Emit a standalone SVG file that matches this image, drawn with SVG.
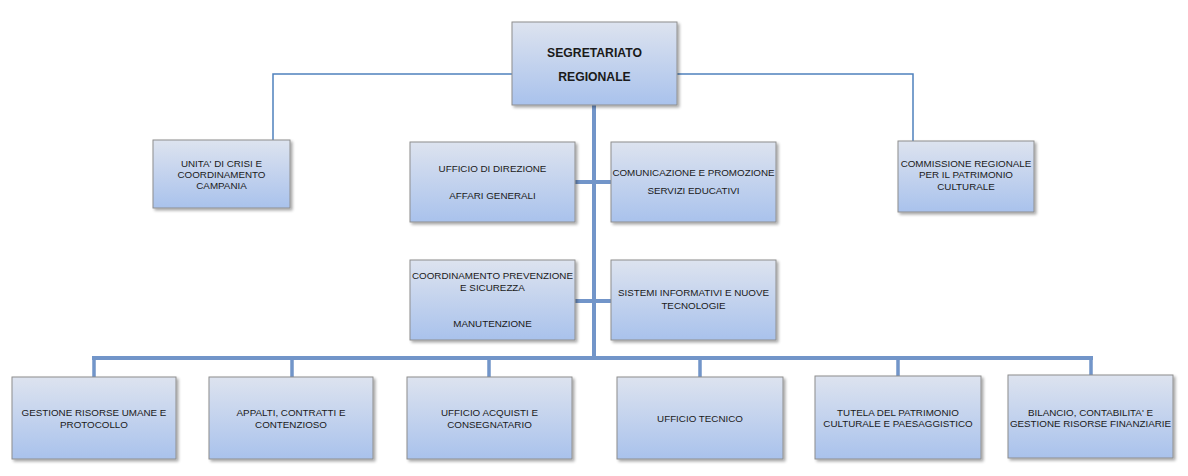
<svg xmlns="http://www.w3.org/2000/svg" width="1188" height="476" viewBox="0 0 1188 476">
<defs>
<linearGradient id="g" x1="0" y1="0" x2="0" y2="1">
<stop offset="0" stop-color="#dde3ef"/>
<stop offset="1" stop-color="#a9c2ec"/>
</linearGradient>
<filter id="sh" x="-10%" y="-10%" width="125%" height="130%">
<feGaussianBlur in="SourceAlpha" stdDeviation="1.5"/>
<feOffset dx="1.5" dy="2" result="b"/>
<feComponentTransfer><feFuncA type="linear" slope="0.35"/></feComponentTransfer>
<feMerge><feMergeNode/><feMergeNode in="SourceGraphic"/></feMerge>
</filter>
</defs>
<style>
.box{fill:url(#g);stroke:#8e8e8e;stroke-width:1;filter:url(#sh)}
.t{font-family:"Liberation Sans",Arial,sans-serif;font-size:9.8px;fill:#1a1a1a;text-anchor:middle}
.tb{font-family:"Liberation Sans",Arial,sans-serif;font-size:12.2px;font-weight:bold;fill:#1a1a1a;text-anchor:middle}
.thin{stroke:#4f81bd;stroke-width:1.5;fill:none}
.thick{stroke:#7295c9;stroke-width:4;fill:none}
.drop{stroke:#7295c9;stroke-width:3.5;fill:none}
</style>
<g id="connectors">
<path class="thin" d="M515 74 H273 V141"/>
<path class="thin" d="M674 74 H913 V142"/>
<path class="thick" d="M594 105 V359"/>
<path class="thick" d="M575 182 H611"/>
<path class="thick" d="M575 301 H611"/>
<path class="thick" d="M92 358 H1093"/>
<path class="drop" d="M94 358 V377 M292 358 V377 M489 358 V377 M700 358 V377 M898 358 V376 M1091 358 V375"/>
</g>
<g id="n-segretariato"><rect class="box" x="512" y="22" width="165" height="83"/>
<text class="tb" x="594.5" y="57">SEGRETARIATO</text><text class="tb" x="594.5" y="81">REGIONALE</text></g>
<g id="n-unita"><rect class="box" x="153" y="140" width="137" height="68"/>
<text class="t" x="221.5" y="167">UNITA' DI CRISI E</text><text class="t" x="221.5" y="178">COORDINAMENTO</text><text class="t" x="221.5" y="189">CAMPANIA</text></g>
<g id="n-commissione"><rect class="box" x="898" y="141" width="136" height="71"/>
<text class="t" x="966" y="167">COMMISSIONE REGIONALE</text><text class="t" x="966" y="178">PER IL PATRIMONIO</text><text class="t" x="966" y="190">CULTURALE</text></g>
<g id="n-direzione"><rect class="box" x="410" y="142" width="165" height="80"/>
<text class="t" x="492.5" y="172">UFFICIO DI DIREZIONE</text><text class="t" x="492.5" y="199">AFFARI GENERALI</text></g>
<g id="n-comunicazione"><rect class="box" x="611" y="142" width="165" height="80"/>
<text class="t" x="693.5" y="176">COMUNICAZIONE E PROMOZIONE</text><text class="t" x="693.5" y="194">SERVIZI EDUCATIVI</text></g>
<g id="n-prevenzione"><rect class="box" x="410" y="260" width="165" height="80"/>
<text class="t" x="492.5" y="279">COORDINAMENTO PREVENZIONE</text><text class="t" x="492.5" y="291">E SICUREZZA</text><text class="t" x="492.5" y="327">MANUTENZIONE</text></g>
<g id="n-sistemi"><rect class="box" x="611" y="260" width="165" height="80"/>
<text class="t" x="693.5" y="296">SISTEMI INFORMATIVI E NUOVE</text><text class="t" x="693.5" y="309">TECNOLOGIE</text></g>
<g id="n-risorse"><rect class="box" x="12" y="377" width="164" height="82"/>
<text class="t" x="94" y="416">GESTIONE RISORSE UMANE E</text><text class="t" x="94" y="428">PROTOCOLLO</text></g>
<g id="n-appalti"><rect class="box" x="209" y="377" width="164" height="82"/>
<text class="t" x="291" y="416">APPALTI, CONTRATTI E</text><text class="t" x="291" y="428">CONTENZIOSO</text></g>
<g id="n-acquisti"><rect class="box" x="407" y="377" width="165" height="82"/>
<text class="t" x="489.5" y="416">UFFICIO ACQUISTI E</text><text class="t" x="489.5" y="428">CONSEGNATARIO</text></g>
<g id="n-tecnico"><rect class="box" x="617" y="377" width="166" height="82"/>
<text class="t" x="700" y="422">UFFICIO TECNICO</text></g>
<g id="n-tutela"><rect class="box" x="815" y="376" width="166" height="83"/>
<text class="t" x="898" y="416">TUTELA DEL PATRIMONIO</text><text class="t" x="898" y="427">CULTURALE E PAESAGGISTICO</text></g>
<g id="n-bilancio"><rect class="box" x="1008" y="375" width="165" height="83"/>
<text class="t" x="1090.5" y="416">BILANCIO, CONTABILITA' E</text><text class="t" x="1090.5" y="427">GESTIONE RISORSE FINANZIARIE</text></g>
</svg>
